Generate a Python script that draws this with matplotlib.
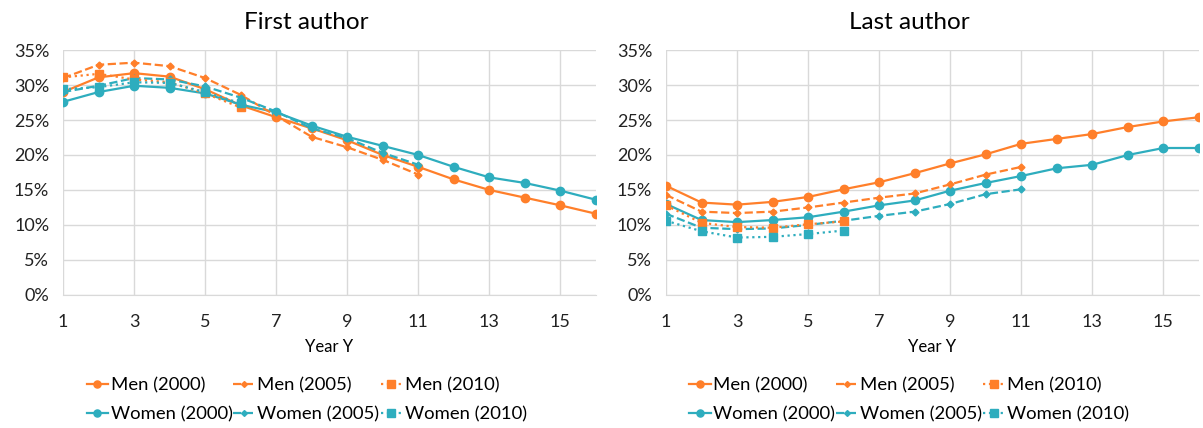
import matplotlib.pyplot as plt
from matplotlib.ticker import PercentFormatter

plt.rcParams['font.family'] = ['Lato', 'DejaVu Sans']

ORANGE = '#FF7F2A'
TEAL = '#2EADBE'

# First author shares (%) by year Y
first_years = list(range(1, 17))
first_men_2000 = [29.0, 31.1, 31.7, 31.2, 29.4, 27.1, 25.4, 23.8, 22.1, 20.0, 18.3, 16.5, 15.0, 13.9, 12.8, 11.6]
first_women_2000 = [27.6, 29.0, 29.9, 29.6, 28.8, 27.2, 26.1, 24.2, 22.6, 21.3, 20.0, 18.3, 16.8, 16.0, 14.9, 13.6]
first_men_2005 = [31.0, 32.9, 33.2, 32.7, 31.0, 28.6, 25.6, 22.6, 21.1, 19.3, 17.2]
first_women_2005 = [29.0, 29.9, 31.0, 30.8, 29.8, 28.2, 26.2, 23.8, 22.4, 20.3, 18.6]
first_men_2010 = [31.1, 31.6, 30.8, 30.4, 28.8, 26.8]
first_women_2010 = [29.4, 29.7, 30.4, 30.3, 29.0, 27.4]

# Last author shares (%) by year Y
last_men_2000 = [15.6, 13.2, 12.9, 13.3, 14.0, 15.1, 16.1, 17.4, 18.8, 20.1, 21.6, 22.3, 23.0, 24.0, 24.8, 25.4]
last_women_2000 = [13.0, 10.7, 10.4, 10.7, 11.1, 11.9, 12.8, 13.5, 14.9, 16.0, 17.0, 18.1, 18.6, 20.0, 21.0, 21.0]
last_men_2005 = [14.3, 11.9, 11.7, 11.9, 12.5, 13.2, 13.9, 14.5, 15.8, 17.2, 18.3]
last_women_2005 = [11.6, 9.6, 9.4, 9.5, 10.0, 10.6, 11.3, 11.9, 13.0, 14.4, 15.1]
last_men_2010 = [12.8, 10.3, 9.7, 9.6, 10.1, 10.5]
last_women_2010 = [10.6, 9.1, 8.2, 8.3, 8.7, 9.2]

panels = [
    ('First author', [first_men_2000, first_men_2005, first_men_2010],
     [first_women_2000, first_women_2005, first_women_2010]),
    ('Last author', [last_men_2000, last_men_2005, last_men_2010],
     [last_women_2000, last_women_2005, last_women_2010]),
]
cohorts = ['2000', '2005', '2010']
styles = [('-', 'o', 6), ('--', 'D', 3.5), (':', 's', 6)]

fig = plt.figure(figsize=(12.03, 4.28), dpi=100)
lefts = [0.0524, 0.5536]

for left, (title, men, women) in zip(lefts, panels):
    ax = fig.add_axes([left, 0.311, 0.443, 0.572])
    handles = []
    for i, cohort in enumerate(cohorts):
        ls, mk, ms = styles[i]
        hm, = ax.plot(first_years[:len(men[i])], men[i], color=ORANGE, ls=ls, marker=mk,
                      ms=ms, lw=1.6, label='Men (%s)' % cohort)
        hw, = ax.plot(first_years[:len(women[i])], women[i], color=TEAL, ls=ls, marker=mk,
                      ms=ms, lw=1.6, label='Women (%s)' % cohort)
        handles.append((hm, hw))
    order = [h for pair in handles for h in pair]
    ax.set_xlim(1, 16)
    ax.set_ylim(0, 35)
    ax.set_xticks(range(1, 16, 2))
    ax.set_yticks(range(0, 36, 5))
    ax.yaxis.set_major_formatter(PercentFormatter(decimals=0))
    ax.grid(True, color='#D9D9D9', lw=1)
    ax.set_axisbelow(True)
    for s in ax.spines.values():
        s.set_visible(False)
    ax.spines['bottom'].set_visible(True)
    ax.spines['bottom'].set_color('#D9D9D9')
    ax.tick_params(length=0, labelsize=13, colors='#222222')
    ax.tick_params(axis='x', pad=14)
    ax.tick_params(axis='y', pad=10)
    # title and legend are centred on the whole chart area, not the plot area
    ax.set_title(title, fontsize=17.5, pad=15, x=0.457)
    ax.set_xlabel('Year Y', fontsize=12, labelpad=6)
    ax.legend(handles=order, ncol=3, loc='upper center', bbox_to_anchor=(0.457, -0.305),
              frameon=False, fontsize=13.3, handlelength=1.15, handletextpad=0.15,
              columnspacing=0.05, labelspacing=0.72, borderaxespad=0,
              markerscale=0.85)

fig.savefig('out.png', dpi=100)
